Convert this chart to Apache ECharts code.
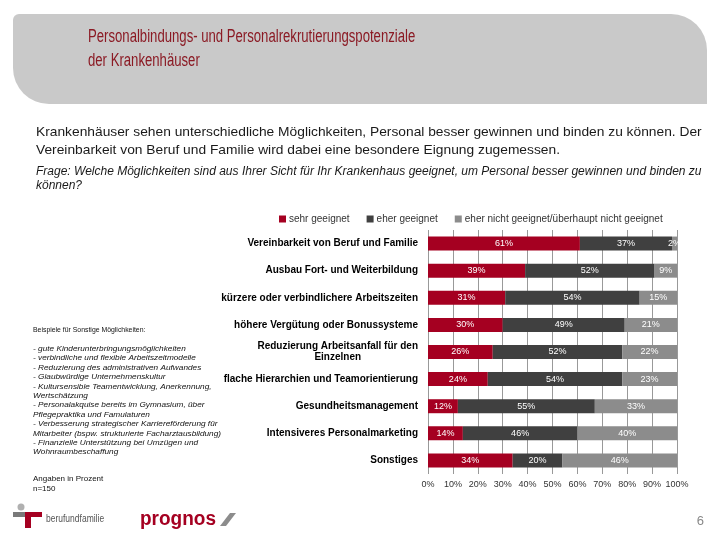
<!DOCTYPE html>
<html>
<head>
<meta charset="utf-8">
<script src="https://cdn.jsdelivr.net/npm/echarts@6/dist/echarts.min.js"></script>
<style>html,body{margin:0;padding:0;background:#fff;}#c{width:720px;height:540px;}</style>
</head>
<body>
<div id="c"></div>
<script>
const categories = [
  'Vereinbarkeit von Beruf und Familie',
  'Ausbau Fort- und Weiterbildung',
  'kürzere oder verbindlichere Arbeitszeiten',
  'höhere Vergütung oder Bonussysteme',
  'Reduzierung Arbeitsanfall für den\nEinzelnen',
  'flache Hierarchien und Teamorientierung',
  'Gesundheitsmanagement',
  'Intensiveres Personalmarketing',
  'Sonstiges'
];
const seriesNames = ['sehr geeignet', 'eher geeignet', 'eher nicht geeignet/überhaupt nicht geeignet'];
const sehrGeeignet = [61, 39, 31, 30, 26, 24, 12, 14, 34];
const eherGeeignet = [37, 52, 54, 49, 52, 54, 55, 46, 20];
const eherNicht = [2, 9, 15, 21, 22, 23, 33, 40, 46];
const tickLabels = ['0%', '10%', '20%', '30%', '40%', '50%', '60%', '70%', '80%', '90%', '100%'];

const title1 = 'Personalbindungs- und Personalrekrutierungspotenziale';
const title2 = 'der Krankenhäuser';
const body1 = 'Krankenhäuser sehen unterschiedliche Möglichkeiten, Personal besser gewinnen und binden zu können. Der';
const body2 = 'Vereinbarkeit von Beruf und Familie wird dabei eine besondere Eignung zugemessen.';
const question1 = 'Frage: Welche Möglichkeiten sind aus Ihrer Sicht für Ihr Krankenhaus geeignet, um Personal besser gewinnen und binden zu';
const question2 = 'können?';
const examplesHead = 'Beispiele für Sonstige Möglichkeiten:';
const examples = [
  '- gute Kinderunterbringungsmöglichkeiten',
  '- verbindliche und flexible Arbeitszeitmodelle',
  '- Reduzierung des administrativen Aufwandes',
  '- Glaubwürdige Unternehmenskultur',
  '- Kultursensible Teamentwicklung, Anerkennung,',
  'Wertschätzung',
  '- Personalakquise bereits im Gymnasium, über',
  'Pflegepraktika und Famulaturen',
  '- Verbesserung strategischer Karriereförderung für',
  'Mitarbeiter (bspw. strukturierte Facharztausbildung)',
  '- Finanzielle Unterstützung bei Umzügen und',
  'Wohnraumbeschaffung'
];
const notes = ['Angaben in Prozent', 'n=150'];

const colors = ['#a50021', '#404040', '#8c8c8c'];
const FONT = '"Liberation Sans", Arial, sans-serif';

function txt(x, y, text, opt) {
  opt = opt || {};
  return {
    type: 'text', x: x, y: y, scaleX: opt.sx || 1, silent: true,
    style: {
      text: text, fill: opt.fill || '#222', fontSize: opt.size || 12,
      fontFamily: opt.family || FONT, fontStyle: opt.italic ? 'italic' : 'normal',
      fontWeight: opt.bold ? 'bold' : 'normal',
      textAlign: opt.align || 'left', textVerticalAlign: 'middle'
    }
  };
}

const graphics = [
  { type: 'rect', shape: { x: 13, y: 14, width: 694, height: 90, r: [6, 36, 0, 36] }, style: { fill: '#c9c9c9' }, silent: true },
  txt(88, 37, title1, { size: 18, fill: '#8b1a24', sx: 0.73 }),
  txt(88, 61, title2, { size: 18, fill: '#8b1a24', sx: 0.73 }),
  txt(36, 132, body1, { size: 13, fill: '#1a1a1a', sx: 1.06 }),
  txt(36, 150, body2, { size: 13, fill: '#1a1a1a', sx: 1.06 }),
  txt(36, 172, question1, { size: 12, italic: true, fill: '#1a1a1a', sx: 1.0 }),
  txt(36, 186, question2, { size: 12, italic: true, fill: '#1a1a1a', sx: 1.0 }),
  txt(33, 330, examplesHead, { size: 8, fill: '#111', sx: 0.86 })
];
examples.forEach(function (line, i) {
  graphics.push(txt(33, 349 + i * 9.4, line, { size: 7.5, italic: true, fill: '#111', sx: 1.1 }));
});
graphics.push(txt(33, 479, notes[0], { size: 8, fill: '#111' }));
graphics.push(txt(33, 489, notes[1], { size: 8, fill: '#111' }));
// footer logos
graphics.push({ type: 'circle', shape: { cx: 21, cy: 507, r: 3.5 }, style: { fill: '#b0b0b0' }, silent: true });
graphics.push({ type: 'rect', shape: { x: 13, y: 512, width: 12, height: 5 }, style: { fill: '#7a7a7a' }, silent: true });
graphics.push({ type: 'rect', shape: { x: 25, y: 512, width: 6, height: 16 }, style: { fill: '#a50021' }, silent: true });
graphics.push({ type: 'rect', shape: { x: 31, y: 512, width: 11, height: 5 }, style: { fill: '#a50021' }, silent: true });
graphics.push(txt(46, 519, 'berufundfamilie', { size: 10, fill: '#555', sx: 0.85 }));
graphics.push(txt(140, 519, 'prognos', { size: 20, bold: true, fill: '#a50021', sx: 0.95 }));
graphics.push({ type: 'polygon', shape: { points: [[220, 526], [226, 526], [236, 513], [230, 513]] }, style: { fill: '#8c8c8c' }, silent: true });
graphics.push(txt(704, 521, '6', { size: 13, fill: '#888', align: 'right' }));

function mkSeries(i, data) {
  return {
    name: seriesNames[i], type: 'bar', stack: 'total', data: data,
    barWidth: 14, itemStyle: { color: colors[i] },
    label: {
      show: true, position: 'inside', color: '#fff', fontSize: 9, fontFamily: FONT,
      formatter: function (p) { return p.value + '%'; }
    }
  };
}

const chart = echarts.init(document.getElementById('c'), null, { renderer: 'canvas' });
chart.setOption({
  animation: false,
  backgroundColor: '#fff',
  textStyle: { fontFamily: FONT },
  legend: {
    left: 274, top: 209, itemWidth: 7, itemHeight: 7, itemGap: 17,
    icon: 'rect',
    textStyle: { fontSize: 10, color: '#333', padding: [0, 0, 0, -2] },
    data: seriesNames
  },
  grid: { left: 428, right: 43, top: 230, bottom: 66, containLabel: false },
  xAxis: {
    type: 'value', min: 0, max: 100, interval: 10,
    axisLine: { show: false }, axisTick: { show: false },
    splitLine: { show: true, lineStyle: { color: '#999', width: 1 } },
    axisLabel: {
      color: '#333', fontSize: 9, margin: 6,
      formatter: function (v) { return tickLabels[Math.round(v / 10)]; }
    }
  },
  yAxis: {
    type: 'category', inverse: true, data: categories,
    axisLine: { show: false }, axisTick: { show: false },
    axisLabel: {
      color: '#000', fontSize: 10, fontWeight: 'bold', margin: 10,
      formatter: function (v) {
        if (v.indexOf('\n') >= 0) {
          return v.split('\n').map(function (s) { return '{c|' + s + '}'; }).join('\n');
        }
        return v;
      },
      rich: { c: { align: 'center', fontSize: 10, fontWeight: 'bold', color: '#000', lineHeight: 11 } }
    }
  },
  series: [mkSeries(0, sehrGeeignet), mkSeries(1, eherGeeignet), mkSeries(2, eherNicht)],
  graphic: graphics
});
</script>
</body>
</html>
